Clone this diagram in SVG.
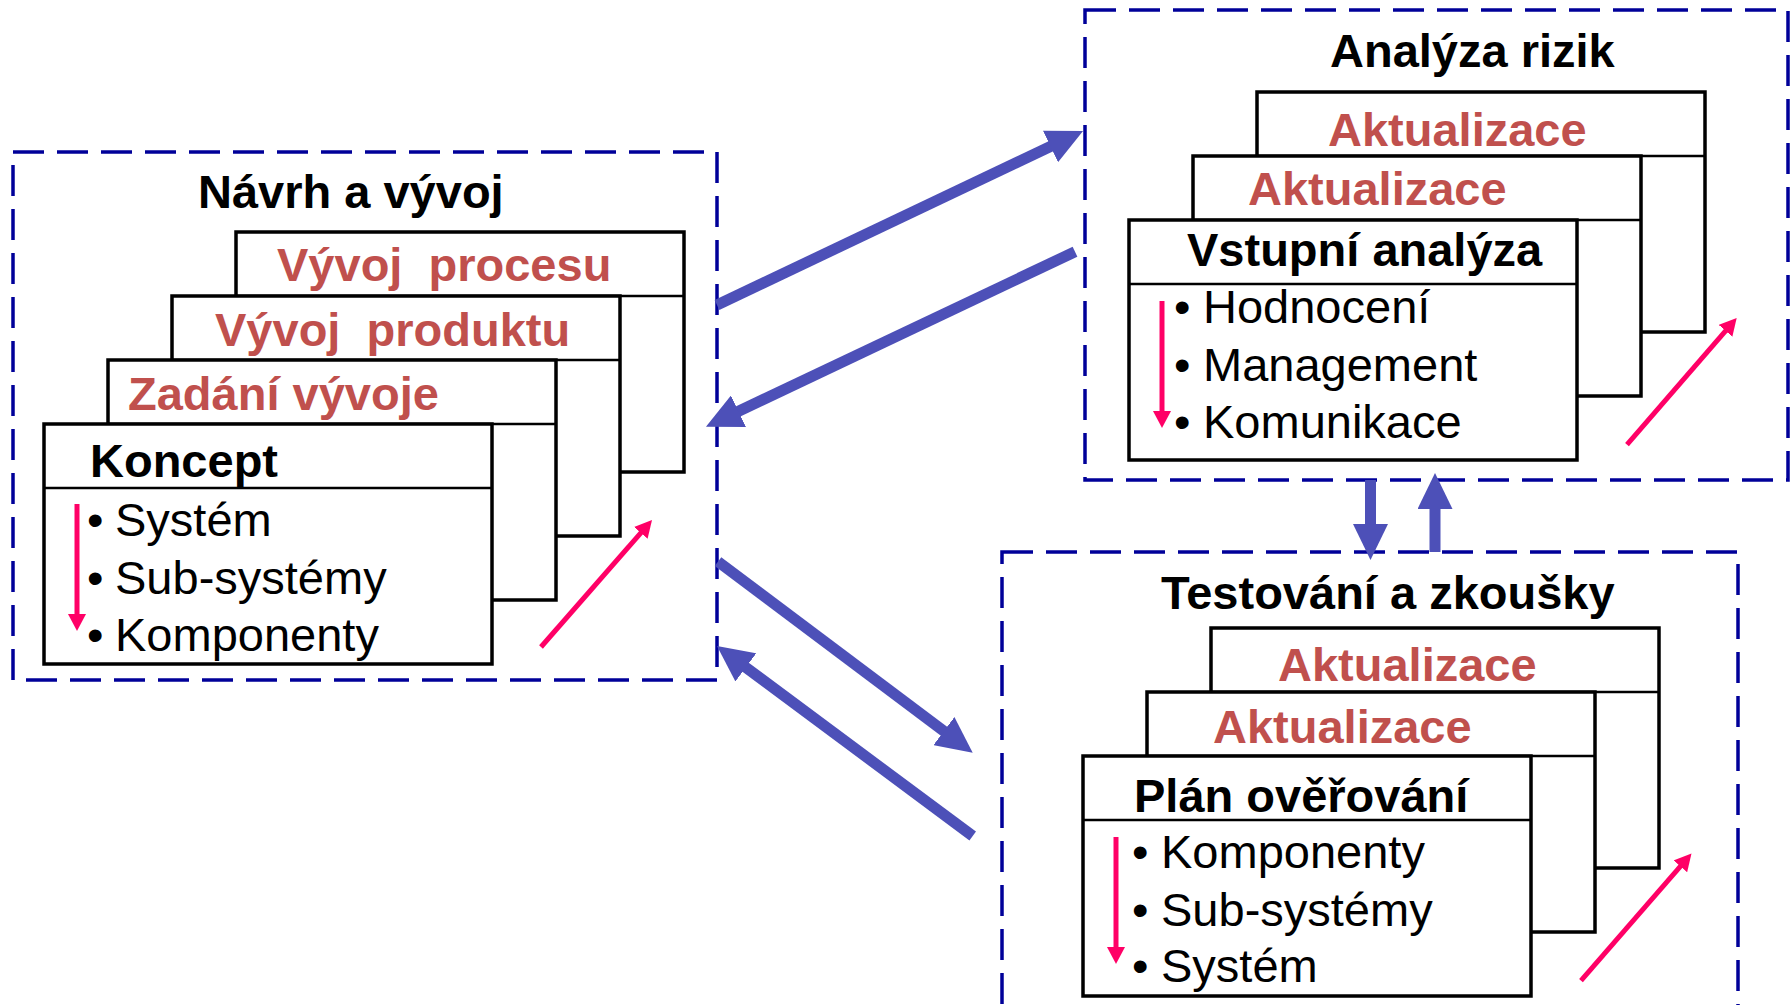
<svg xmlns="http://www.w3.org/2000/svg" width="1791" height="1005" viewBox="0 0 1791 1005">
<defs>
<style>
.dash{fill:none;stroke:#000099;stroke-width:3.5;stroke-dasharray:31 13}
.card{fill:#fff;stroke:#000;stroke-width:3.5}
.dv{stroke:#000;stroke-width:2.5}
.t{font-family:"Liberation Sans",Arial,sans-serif;font-size:47px;fill:#000}
.b{font-weight:bold}
.red{fill:#C0504D}
.ra{stroke:#FF0066;stroke-width:5;fill:none;marker-end:url(#rh)}
.ba{stroke:#4D50B8;stroke-width:11;fill:none;marker-end:url(#bh)}
</style>
<marker id="rh" markerUnits="userSpaceOnUse" markerWidth="18" markerHeight="18" refX="10" refY="9" orient="auto">
<path d="M0,0 L17,9 L0,18 z" fill="#FF0066"/>
</marker>
<marker id="bh" markerUnits="userSpaceOnUse" markerWidth="36" markerHeight="35" refX="22" refY="17.5" orient="auto">
<path d="M0,0 L36,17.5 L0,35 z" fill="#4D50B8"/>
</marker>
</defs>
<rect width="1791" height="1005" fill="#fff"/>

<g id="navrh-a-vyvoj">
<rect class="dash" x="13" y="152" width="704" height="528"/>
<text class="t b" x="198" y="208">Návrh a vývoj</text>
<g id="vyvoj-procesu">
<rect class="card" x="236" y="232" width="448" height="240"/>
<line class="dv" x1="236" y1="296" x2="684" y2="296"/>
<text class="t b red" x="277" y="281" xml:space="preserve">Vývoj  procesu</text>
</g>
<g id="vyvoj-produktu">
<rect class="card" x="172" y="296" width="448" height="240"/>
<line class="dv" x1="172" y1="360" x2="620" y2="360"/>
<text class="t b red" x="215" y="346" xml:space="preserve">Vývoj  produktu</text>
</g>
<g id="zadani-vyvoje">
<rect class="card" x="108" y="360" width="448" height="240"/>
<line class="dv" x1="108" y1="424" x2="556" y2="424"/>
<text class="t b red" x="128" y="410">Zadání vývoje</text>
</g>
<g id="koncept">
<rect class="card" x="44" y="424" width="448" height="240"/>
<line class="dv" x1="44" y1="488" x2="492" y2="488"/>
<text class="t b" x="90" y="477">Koncept</text>
<text class="t"><tspan x="87" y="536">•</tspan><tspan x="115" y="536">Systém</tspan></text>
<text class="t"><tspan x="87" y="594">•</tspan><tspan x="115" y="594">Sub-systémy</tspan></text>
<text class="t"><tspan x="87" y="651">•</tspan><tspan x="115" y="651">Komponenty</tspan></text>
<line class="ra" x1="77" y1="504" x2="77" y2="624"/>
</g>
<line class="ra" x1="541" y1="647" x2="647.4" y2="525.3"/>
</g>

<g id="analyza-rizik">
<rect class="dash" x="1085" y="10" width="703" height="470"/>
<text class="t b" x="1330" y="67">Analýza rizik</text>
<g id="aktualizace-ar-2">
<rect class="card" x="1257" y="92" width="448" height="240"/>
<line class="dv" x1="1257" y1="156" x2="1705" y2="156"/>
<text class="t b red" x="1328" y="146">Aktualizace</text>
</g>
<g id="aktualizace-ar-1">
<rect class="card" x="1193" y="156" width="448" height="240"/>
<line class="dv" x1="1193" y1="220" x2="1641" y2="220"/>
<text class="t b red" x="1248" y="205">Aktualizace</text>
</g>
<g id="vstupni-analyza">
<rect class="card" x="1129" y="220" width="448" height="240"/>
<line class="dv" x1="1129" y1="284" x2="1577" y2="284"/>
<text class="t b" x="1187" y="266">Vstupní analýza</text>
<text class="t"><tspan x="1174" y="323">•</tspan><tspan x="1203" y="323">Hodnocení</tspan></text>
<text class="t"><tspan x="1174" y="381">•</tspan><tspan x="1203" y="381">Management</tspan></text>
<text class="t"><tspan x="1174" y="438">•</tspan><tspan x="1203" y="438">Komunikace</tspan></text>
<line class="ra" x1="1162" y1="301" x2="1162" y2="421"/>
</g>
<line class="ra" x1="1627" y1="444.6" x2="1732.1" y2="323.3"/>
</g>

<g id="testovani-a-zkousky">
<rect class="dash" x="1002" y="552" width="736" height="480"/>
<text class="t b" x="1161" y="609">Testování a zkoušky</text>
<g id="aktualizace-tz-2">
<rect class="card" x="1211" y="628" width="448" height="240"/>
<line class="dv" x1="1211" y1="692" x2="1659" y2="692"/>
<text class="t b red" x="1278" y="681">Aktualizace</text>
</g>
<g id="aktualizace-tz-1">
<rect class="card" x="1147" y="692" width="448" height="240"/>
<line class="dv" x1="1147" y1="756" x2="1595" y2="756"/>
<text class="t b red" x="1213" y="743">Aktualizace</text>
</g>
<g id="plan-overovani">
<rect class="card" x="1083" y="756" width="448" height="240"/>
<line class="dv" x1="1083" y1="820" x2="1531" y2="820"/>
<text class="t b" x="1134" y="812">Plán ověřování</text>
<text class="t"><tspan x="1132" y="868">•</tspan><tspan x="1161" y="868">Komponenty</tspan></text>
<text class="t"><tspan x="1132" y="926">•</tspan><tspan x="1161" y="926">Sub-systémy</tspan></text>
<text class="t"><tspan x="1132" y="982">•</tspan><tspan x="1161" y="982">Systém</tspan></text>
<line class="ra" x1="1116" y1="837" x2="1116" y2="957"/>
</g>
<line class="ra" x1="1581" y1="980.7" x2="1686.9" y2="858.8"/>
</g>

<g id="connectors">
<line class="ba" x1="717" y1="305" x2="1070.4" y2="137"/>
<line class="ba" x1="1075" y1="251.7" x2="718.6" y2="420.7"/>
<line class="ba" x1="718" y1="561.7" x2="961.5" y2="744.3"/>
<line class="ba" x1="972.7" y1="836" x2="728.2" y2="654.3"/>
<line class="ba" x1="1370.5" y1="480" x2="1370.5" y2="546"/>
<line class="ba" x1="1435" y1="552" x2="1435" y2="487"/>
</g>
</svg>
